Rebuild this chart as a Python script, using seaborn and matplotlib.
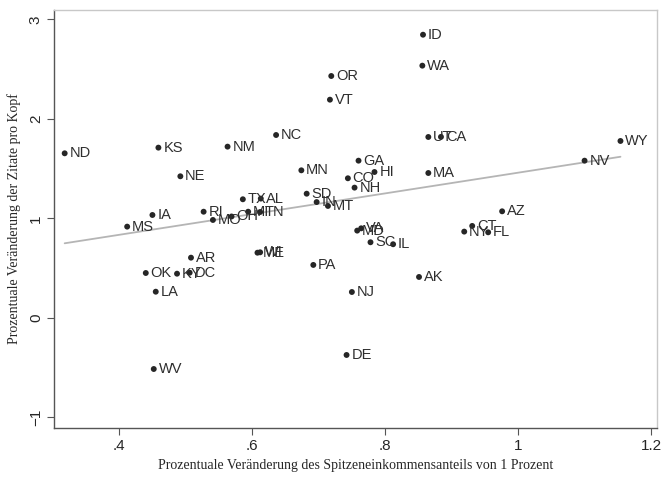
import pandas as pd
import seaborn as sns
import matplotlib.pyplot as plt
import numpy as np

# Data: state, change of top income share, change of citations per head
states = ['ND', 'KS', 'NE', 'NM', 'NC', 'OR', 'VT', 'MN', 'SD', 'TX',
          'AL', 'IA', 'MS', 'RI', 'MO', 'OH', 'MI', 'TN', 'MT', 'IN',
          'ME', 'WI', 'ID', 'WA', 'UT', 'CA', 'WY', 'NV', 'MA', 'GA',
          'HI', 'CO', 'NH', 'AZ', 'CT', 'NY', 'FL', 'VA', 'MD', 'SC',
          'IL', 'AK', 'NJ', 'DE', 'AR', 'OK', 'KY', 'DC', 'LA', 'WV', 'PA']
x_vals = [0.318, 0.459, 0.492, 0.563, 0.636, 0.719, 0.717, 0.674, 0.682, 0.586,
          0.613, 0.450, 0.412, 0.527, 0.541, 0.569, 0.594, 0.612, 0.714, 0.697,
          0.608, 0.612, 0.857, 0.856, 0.865, 0.884, 1.154, 1.100, 0.865, 0.760,
          0.784, 0.744, 0.754, 0.976, 0.931, 0.919, 0.955, 0.764, 0.758, 0.778,
          0.812, 0.851, 0.750, 0.742, 0.508, 0.440, 0.487, 0.506, 0.455, 0.452, 0.692]
y_vals = [1.655, 1.712, 1.424, 1.722, 1.839, 2.432, 2.194, 1.484, 1.249, 1.193,
          1.200, 1.035, 0.918, 1.068, 0.985, 1.020, 1.068, 1.065, 1.126, 1.165,
          0.656, 0.660, 2.847, 2.536, 1.819, 1.820, 1.779, 1.581, 1.457, 1.581,
          1.467, 1.404, 1.310, 1.072, 0.925, 0.868, 0.861, 0.901, 0.878, 0.761,
          0.741, 0.412, 0.261, -0.372, 0.606, 0.452, 0.445, 0.455, 0.264, -0.513, 0.533]

x_ticks = [0.4, 0.6, 0.8, 1.0, 1.2]
x_ticklabels = ['.4', '.6', '.8', '1', '1.2']
y_ticks = [-1, 0, 1, 2, 3]
y_ticklabels = ['\u22121', '0', '1', '2', '3']

df = pd.DataFrame({'state': states, 'x': x_vals, 'y': y_vals})

sns.set_style('white')
plt.rcParams['font.family'] = ['Liberation Sans', 'DejaVu Sans']

fig = plt.figure(figsize=(6.63, 4.78), dpi=100)
ax = fig.add_axes([0.0815, 0.1046, 0.9095, 0.8744])

# fitted line
sns.regplot(data=df, x='x', y='y', scatter=False, ci=None, ax=ax,
            line_kws={'color': '#b5b5b5', 'linewidth': 1.3})
sns.scatterplot(data=df, x='x', y='y', ax=ax, color='#262626', s=18,
                edgecolor='none', zorder=3)

for _, r in df.iterrows():
    ax.annotate(r['state'], (r['x'], r['y']), xytext=(3.5, 0),
                textcoords='offset points', va='center', ha='left',
                fontsize=10.5, color='#2e2e2e')

ax.set_xlim(0.302, 1.209)
ax.set_ylim(-1.106, 3.095)
ax.set_xticks(x_ticks)
ax.set_xticklabels(x_ticklabels, fontsize=11)
ax.set_yticks(y_ticks)
ax.set_yticklabels(y_ticklabels, fontsize=11, rotation=90, va='center')
ax.tick_params(axis='both', direction='out', length=5, width=0.8,
               color='#555555', bottom=True, left=True, pad=3)

for side in ['left', 'bottom']:
    ax.spines[side].set_color('#555555')
    ax.spines[side].set_linewidth(1.0)
for side in ['top', 'right']:
    ax.spines[side].set_color('#c8c8c8')
    ax.spines[side].set_linewidth(1.0)

ax.set_xlabel('Prozentuale Veränderung des Spitzeneinkommensanteils von 1 Prozent',
              fontsize=10, family='Liberation Serif', labelpad=4)
ax.set_ylabel('Prozentuale Veränderung der Zitate pro Kopf',
              fontsize=10, family='Liberation Serif', labelpad=6)

fig.savefig('out.png', dpi=100)
